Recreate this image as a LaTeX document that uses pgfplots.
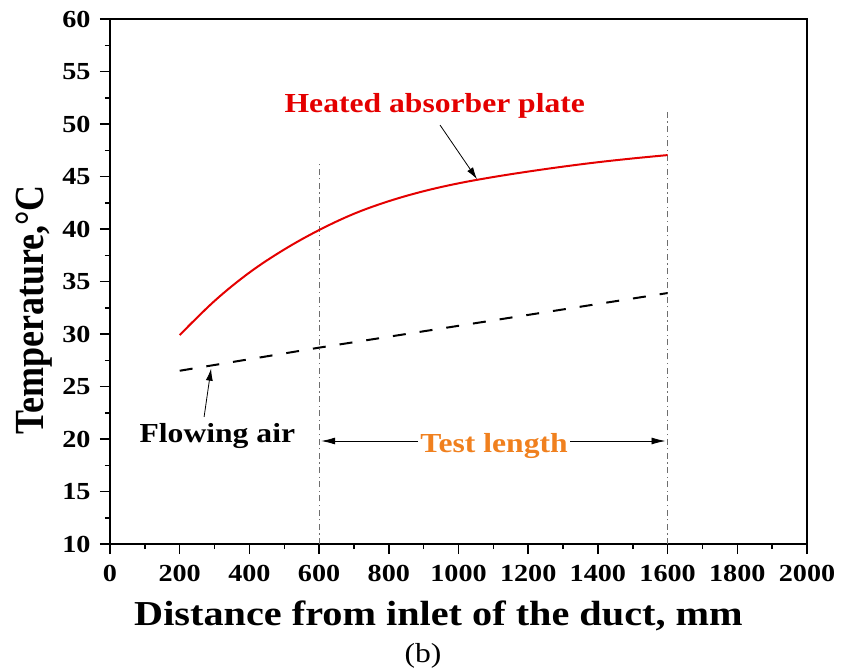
\documentclass[border=0pt]{standalone}
\usepackage{fontspec}
\setmainfont{Liberation Serif}[FakeStretch=1.15]
\newfontfamily\ylabfont{Liberation Serif}
\usepackage{graphicx}
\usepackage{pgfplots}
\pgfplotsset{compat=1.18}
\usetikzlibrary{arrows.meta}
\definecolor{plateRed}{RGB}{228,0,0}
\definecolor{testOrange}{RGB}{240,128,30}
\definecolor{guideGray}{RGB}{110,110,110}

\begin{document}
\begin{tikzpicture}
\path[use as bounding box] (-110pt,-126pt) rectangle (736pt,544pt);
\begin{axis}[
  at={(0pt,0pt)}, anchor=south west,
  width=697pt, height=525pt, scale only axis,
  xmin=0, xmax=2000, ymin=10, ymax=60,
  xtick={0,200,...,2000}, ytick={10,15,...,60},
  minor x tick num=1, minor y tick num=1,
  tick align=outside, tick pos=left,
  major tick length=10pt, minor tick length=5pt,
  axis line style={line width=1.5pt},
  every tick/.style={line width=1.5pt, black},
  /pgf/number format/assume math mode=true,
  /pgf/number format/1000 sep={},
  tick label style={font=\fontsize{24.5}{24.5}\selectfont\bfseries},
  xticklabel style={yshift=-8pt},
  yticklabel style={xshift=-6pt},
  xlabel={Distance from inlet of the duct, mm},
  xlabel style={font=\fontsize{35}{35}\selectfont\bfseries,
    at={(axis description cs:0.4713,0)}, anchor=base, yshift=-81pt},
  ylabel={\scalebox{1}[1.15]{\ylabfont\bfseries Temperature,°C}},
  ylabel style={font=\fontsize{36}{36}\selectfont,
    at={(axis description cs:-0.0961,0.446)}, anchor=base},
]
% test-section boundaries
\addplot[guideGray, line width=1.2pt, dash pattern=on 6pt off 3.5pt on 1.2pt off 3.5pt]
  coordinates {(600,10) (600,46.3)};
\addplot[guideGray, line width=1.2pt, dash pattern=on 6pt off 3.5pt on 1.2pt off 3.5pt]
  coordinates {(1600,10) (1600,51.2)};

% absorber plate temperature
\addplot[plateRed, line width=2pt, smooth, tension=0.6] coordinates {
  (200,29.9) (300,33.15) (400,35.85) (500,38.05) (600,39.9) (700,41.45)
  (800,42.65) (900,43.6) (1000,44.35) (1100,44.95) (1200,45.47) (1300,45.94)
  (1400,46.36) (1500,46.72) (1600,47.04)};

% air temperature
\addplot[black, line width=2pt, dash pattern=on 13pt off 14pt] coordinates {
  (200,26.5) (600,28.7) (1100,31.3) (1600,33.9)};

% annotations
\node[font=\fontsize{27.5}{27.5}\selectfont\bfseries, text=plateRed, anchor=base]
  at (axis cs:932,51.05) {Heated absorber plate};
\draw[line width=0.8pt, -{Latex[length=12pt,width=7pt]}]
  (axis cs:947,49.9) -- (axis cs:1053,44.75);

\node[font=\fontsize{27.5}{27.5}\selectfont\bfseries, anchor=base]
  at (axis cs:308,19.62) {Flowing air};
\draw[line width=0.8pt, -{Latex[length=12pt,width=7pt]}]
  (axis cs:270,22.1) -- (axis cs:290,26.7);

\node[font=\fontsize{27.5}{27.5}\selectfont\bfseries, text=testOrange, anchor=base]
  at (axis cs:1102,18.76) {Test length};
\draw[line width=0.8pt, -{Latex[length=14pt,width=7pt]}]
  (axis cs:884,19.81) -- (axis cs:606,19.81);
\draw[line width=0.8pt, -{Latex[length=14pt,width=7pt]}]
  (axis cs:1320,19.81) -- (axis cs:1594,19.81);
\end{axis}
\node[font=\fontsize{27.5}{27.5}\selectfont, anchor=base] at (313pt,-118pt) {(b)};
\end{tikzpicture}
\end{document}
